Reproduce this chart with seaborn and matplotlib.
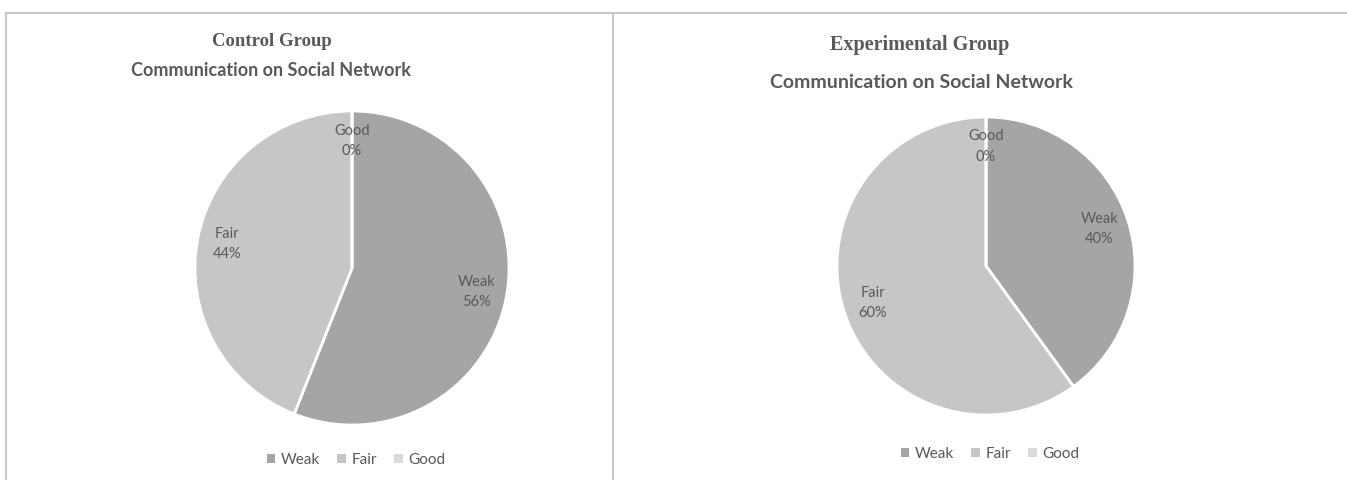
import matplotlib
matplotlib.use("Agg")
import matplotlib.pyplot as plt
from matplotlib.lines import Line2D
from matplotlib.patches import Patch
import seaborn as sns

# Category data
levels = ["Weak", "Fair", "Good"]
control_pct = [56, 44, 0]
experimental_pct = [40, 60, 0]
group_titles = ["Control Group", "Experimental Group"]
subtitle = "Communication on Social Network"

sns.set_theme(style="white")
plt.rcParams["font.family"] = ["Lato", "DejaVu Sans"]

text_grey = "#595959"
border_grey = "#c8c8c8"
shades = sns.color_palette(["#a5a5a5", "#c6c6c6", "#d9d9d9"])

W, H = 1347, 480
fig = plt.figure(figsize=(W / 100, H / 100), dpi=100)
fig.patch.set_facecolor("white")


def px_axes(cx, cy, r):
    return fig.add_axes([(cx - r) / W, 1 - (cy + r) / H, 2 * r / W, 2 * r / H])


def draw_pie(ax, values, label_dist):
    names = iter(levels)
    wedges, _, autotexts = ax.pie(
        values,
        colors=shades,
        startangle=90,
        counterclock=False,
        autopct=lambda p: f"{next(names)}\n{p:.0f}%",
        pctdistance=label_dist,
        wedgeprops=dict(edgecolor="white", linewidth=2),
        textprops=dict(color=text_grey, fontsize=10.5, linespacing=1.6),
    )
    ax.set_xlim(-1, 1)
    ax.set_ylim(-1, 1)
    ax.set_aspect("equal")
    for w in wedges:
        w.set_clip_on(False)


ax1 = px_axes(352, 268, 157)
draw_pie(ax1, control_pct, 0.81)
ax2 = px_axes(986, 266, 149)
draw_pie(ax2, experimental_pct, 0.80)

# Titles
fig.text(272 / W, 1 - 42 / H, group_titles[0], ha="center", va="center",
         family="Liberation Serif", weight="bold", fontsize=13.5, color=text_grey)
fig.text(271 / W, 1 - 71 / H, subtitle, ha="center", va="center",
         weight="bold", fontsize=13, color=text_grey)
fig.text(920 / W, 1 - 45 / H, group_titles[1], ha="center", va="center",
         family="Liberation Serif", weight="bold", fontsize=14.5, color=text_grey)
fig.text(921 / W, 1 - 83 / H, subtitle, ha="center", va="center",
         weight="bold", fontsize=14, color=text_grey)

# Legends
handles = [Patch(facecolor=c, edgecolor="none") for c in shades]
for cx, cy in [(356, 460), (990, 454)]:
    fig.legend(handles, levels, loc="center", bbox_to_anchor=(cx / W, 1 - cy / H),
               ncol=3, frameon=False, fontsize=11, labelcolor=text_grey,
               handlelength=0.55, handleheight=0.55, handletextpad=0.35,
               columnspacing=1.15)

# Panel borders
lw = 1.5
fig.add_artist(Line2D([6 / W, 1], [1 - 13 / H, 1 - 13 / H], color=border_grey, lw=lw))
fig.add_artist(Line2D([6 / W, 6 / W], [0, 1 - 13 / H], color=border_grey, lw=lw))
fig.add_artist(Line2D([613 / W, 613 / W], [0, 1 - 13 / H], color=border_grey, lw=lw))

fig.savefig("out.png", dpi=100, facecolor="white")
